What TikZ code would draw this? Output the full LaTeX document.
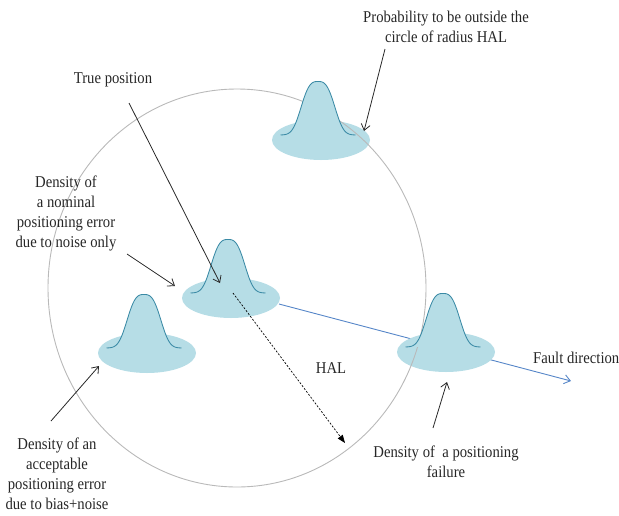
\documentclass[tikz,border=0pt]{standalone}
\usepackage{fontspec}
\setmainfont[FakeStretch=0.89]{Liberation Serif}
\usetikzlibrary{shapes.geometric,arrows.meta}
\definecolor{densfill}{RGB}{182,221,230}
\definecolor{bellcol}{RGB}{58,138,165}
\definecolor{circcol}{RGB}{185,185,185}
\definecolor{faultcol}{RGB}{86,134,200}
\definecolor{arrcol}{RGB}{40,40,40}
\tikzset{
  dens/.style={ellipse, fill=densfill, minimum width=98pt, minimum height=40pt, inner sep=0pt},
  bell/.pic={
    \fill[densfill] plot[domain=-37.5:37.5,samples=101,smooth] (\x,{-53.5*exp(-((abs(\x)+0.001)/19.5)^3)}) -- cycle;
    \draw[bellcol, line width=0.85pt] plot[domain=-37.5:37.5,samples=101,smooth] (\x,{-53.5*exp(-((abs(\x)+0.001)/19.5)^3)});
  },
  lbl/.style={align=center, font=\fontsize{16.5}{20}\selectfont, text=black!85, inner sep=0pt},
  pointer/.style={draw=arrcol, line width=0.8pt, -{Straight Barb[length=6pt,width=9pt]}},
}
\begin{document}
\begin{tikzpicture}[x=1pt,y=-1pt]
\useasboundingbox (0,0) rectangle (619,515);
% fault direction
\coordinate (fs) at (279,304);
\coordinate (fe) at (571,381);
\draw[faultcol, line width=0.9pt, -{Straight Barb[length=6pt,width=9pt]}] (fs) -- (fe);
% density ellipses
\node[dens] (d1) at (321,140) {};
\node[dens] (d2) at (231,298) {};
\node[dens] (d3) at (147,353) {};
\node[dens] (d4) at (446,352) {};
% HAL circle
\draw[circcol, line width=0.9pt] (237,288) ellipse [x radius=189, y radius=199];
% bells
\pic (b1) at (318,135) {bell};
\pic (b2) at (228,293) {bell};
\pic (b3) at (144,348) {bell};
\pic (b4) at (443,347) {bell};
% HAL radius
\coordinate (hs) at (233,293);
\coordinate (he) at (345,443);
\draw[black, line width=0.7pt, dash pattern=on 2pt off 1.6pt, -{Triangle[length=8pt,width=6pt]}] (hs) -- (he);
\node[lbl] (hal) at (331,368) {HAL};
% labels
\node[lbl] (prob) at (446,27) {Probability to be outside the\\circle of radius HAL};
\node[lbl] (truep) at (113,80) {True position};
\node[lbl] (nominal) at (66,213) {Density of\\a nominal\\positioning error\\due to noise only};
\node[lbl] (accept) at (57,474) {Density of an\\acceptable\\positioning error\\due to bias+noise};
\node[lbl] (fail) at (446,462) {Density of\ \ a positioning\\failure};
\node[lbl, anchor=west] (fault) at (533,358) {Fault direction};
% pointers
\coordinate (p1s) at (385,49);  \coordinate (p1e) at (364,131);
\coordinate (p2s) at (129,103); \coordinate (p2e) at (220,283);
\coordinate (p3s) at (127,254); \coordinate (p3e) at (175,286);
\coordinate (p4s) at (51,421);  \coordinate (p4e) at (99,366);
\coordinate (p5s) at (433,428); \coordinate (p5e) at (447,382);
\draw[pointer] (p1s) -- (p1e);
\draw[pointer] (p2s) -- (p2e);
\draw[pointer] (p3s) -- (p3e);
\draw[pointer] (p4s) -- (p4e);
\draw[pointer] (p5s) -- (p5e);
\end{tikzpicture}
\end{document}
